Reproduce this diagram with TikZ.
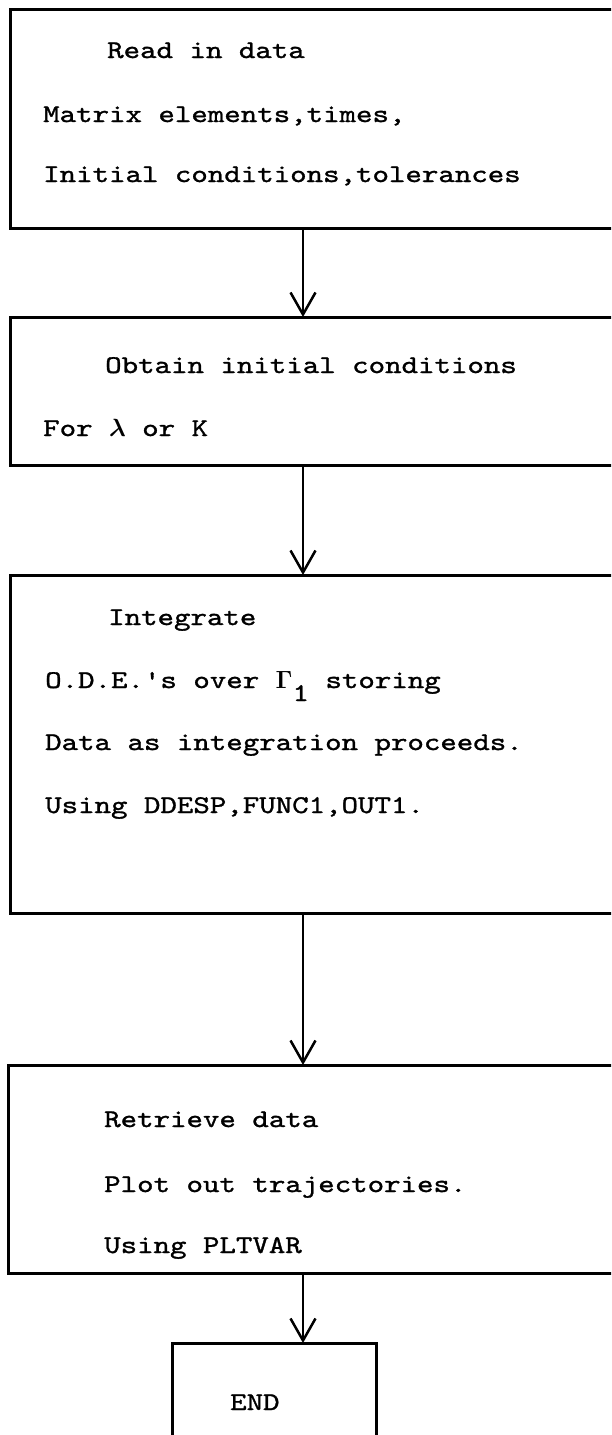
\documentclass[tikz,border=0pt]{standalone}
\usepackage{fontspec}
\newfontfamily\tw[Extension=.otf,FakeStretch=1.23,FakeBold=1.2,Ligatures=TeXOff]{lmmono10-regular}
\usetikzlibrary{arrows.meta}
\begin{document}
\begin{tikzpicture}[x=1pt,y=-1pt,
  box/.style={draw, line width=3pt, rectangle, inner sep=0pt, outer sep=0pt, anchor=north west},
  txt/.style={anchor=base west, inner sep=0pt, font=\tw\fontsize{25.5}{30}\selectfont\boldmath},
  flow/.style={line width=2.5pt, -{Straight Barb[length=22pt,width=25pt]}}]
\useasboundingbox (0,0) rectangle (611,1435);
\clip (0,0) rectangle (611,1435);
\coordinate (ax) at (303,0);
% boxes
\node[box, minimum width=640pt, minimum height=219pt] (b1) at (10,9) {};
\node[box, minimum width=640pt, minimum height=148pt] (b2) at (10,317) {};
\node[box, minimum width=640pt, minimum height=338pt] (b3) at (10,575) {};
\node[box, minimum width=640pt, minimum height=208pt] (b4) at (8,1065) {};
\node[box, minimum width=204pt, minimum height=200pt] (b5) at (172,1343) {};
% texts
\node[txt] (t11) at (107,58) {Read in data};
\node[txt] (t12) at (43,122) {Matrix elements,times,};
\node[txt] (t13) at (43,182) {Initial conditions,tolerances};
\node[txt] (t21) at (105,373) {Obtain initial conditions};
\node[txt] (t22) at (43,436) {For $\lambda$ or K};
\node[txt] (t31) at (108,625) {Integrate};
\node[txt] (t32) at (45,688) {O.D.E.'s over $\Gamma$\raisebox{-13pt}{1} storing};
\node[txt] (t33) at (45,750) {Data as integration proceeds.};
\node[txt] (t34) at (45,813) {Using DDESP,FUNC1,OUT1.};
\node[txt] (t41) at (104,1127) {Retrieve data};
\node[txt] (t42) at (104,1192) {Plot out trajectories.};
\node[txt] (t43) at (104,1253) {Using PLTVAR};
\node[txt] (t51) at (230,1410) {END};
% connectors
\draw[flow] (b1.south -| ax) -- (b2.north -| ax);
\draw[flow] (b2.south -| ax) -- (b3.north -| ax);
\draw[flow] (b3.south -| ax) -- (b4.north -| ax);
\draw[flow] (b4.south -| ax) -- (b5.north -| ax);
\end{tikzpicture}
\end{document}
